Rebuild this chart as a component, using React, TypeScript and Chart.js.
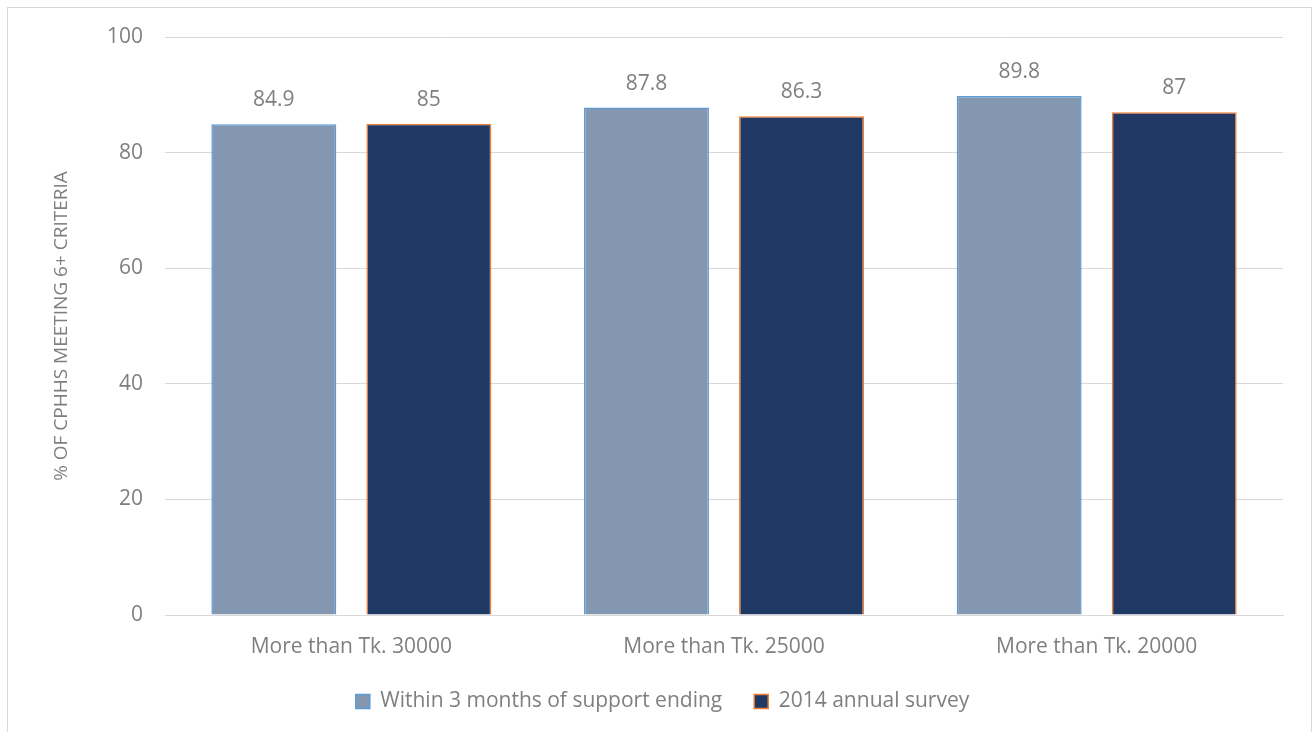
import React, { useEffect, useRef } from "react";
import { Chart, registerables } from "chart.js";

Chart.register(...registerables);

const categories = ["More than Tk. 30000", "More than Tk. 25000", "More than Tk. 20000"];
const seriesNames = ["Within 3 months of support ending", "2014 annual survey"];
const withinValues = [84.9, 87.8, 89.8];
const surveyValues = [85, 86.3, 87];
const yTicks = [0, 20, 40, 60, 80, 100];
const yTitle = "% OF CPHHS MEETING 6+ CRITERIA";

const FONT = "'Open Sans', sans-serif";
const GRAY = "#7f7f7f";

const labelPlugin = {
  id: "valueLabels",
  afterDatasetsDraw(chart: any) {
    const ctx = chart.ctx;
    ctx.save();
    ctx.font = `21px ${FONT}`;
    ctx.fillStyle = GRAY;
    ctx.textAlign = "center";
    ctx.textBaseline = "middle";
    chart.data.datasets.forEach((ds: any, i: number) => {
      const meta = chart.getDatasetMeta(i);
      meta.data.forEach((el: any, j: number) => {
        ctx.fillText(String(ds.data[j]), el.x, el.y - 24);
      });
    });
    ctx.restore();
  },
};

export default function App() {
  const ref = useRef<HTMLCanvasElement>(null);
  useEffect(() => {
    if (!ref.current) return;
    const chart = new Chart(ref.current, {
      type: "bar",
      data: {
        labels: categories,
        datasets: [
          {
            label: seriesNames[0],
            data: withinValues,
            backgroundColor: "#8497b0",
            borderColor: "#5b9bd5",
            borderWidth: 1.5,
          },
          {
            label: seriesNames[1],
            data: surveyValues,
            backgroundColor: "#203864",
            borderColor: "#ed7d31",
            borderWidth: 1.5,
          },
        ],
      },
      options: {
        animation: false,
        responsive: false,
        maintainAspectRatio: false,
        layout: { padding: { top: 37, right: 32, left: 42, bottom: 10 } },
        datasets: { bar: { categoryPercentage: 0.832, barPercentage: 0.806 } },
        plugins: {
          tooltip: { enabled: false },
          legend: {
            position: "bottom",
            labels: {
              color: GRAY,
              font: { family: FONT, size: 21 },
              boxWidth: 14,
              boxHeight: 14,
              padding: 32,
            },
          },
        },
        scales: {
          x: {
            grid: { display: false, drawTicks: false },
            border: { display: true, color: "#d9d9d9", width: 1 },
            ticks: { color: GRAY, font: { family: FONT, size: 21 }, padding: 19 },
            afterFit: (s: any) => { s.height = 44; },
          },
          y: {
            min: 0,
            max: 100,
            afterBuildTicks: (s: any) => { s.ticks = yTicks.map((v) => ({ value: v })); },
            grid: { color: "#d9d9d9", drawTicks: false },
            border: { display: false },
            ticks: { color: GRAY, font: { family: FONT, size: 21 }, padding: 22 },
            title: {
              display: true,
              text: yTitle,
              color: GRAY,
              font: { family: FONT, size: 19 },
              padding: { top: 8, bottom: 0 },
            },
            afterFit: (s: any) => { s.width = 123; },
          },
        },
      },
      plugins: [labelPlugin],
    });
    return () => chart.destroy();
  }, []);
  return (
    <div style={{ position: "absolute", left: 0, top: 0, width: 1315, height: 732, overflow: "hidden", background: "#fff" }}>
      <div style={{ position: "absolute", left: 7, top: 7, width: 1303, height: 740, border: "1px solid #d9d9d9" }} />
      <canvas ref={ref} width={1315} height={732} style={{ position: "absolute", left: 0, top: 0 }} />
    </div>
  );
}
